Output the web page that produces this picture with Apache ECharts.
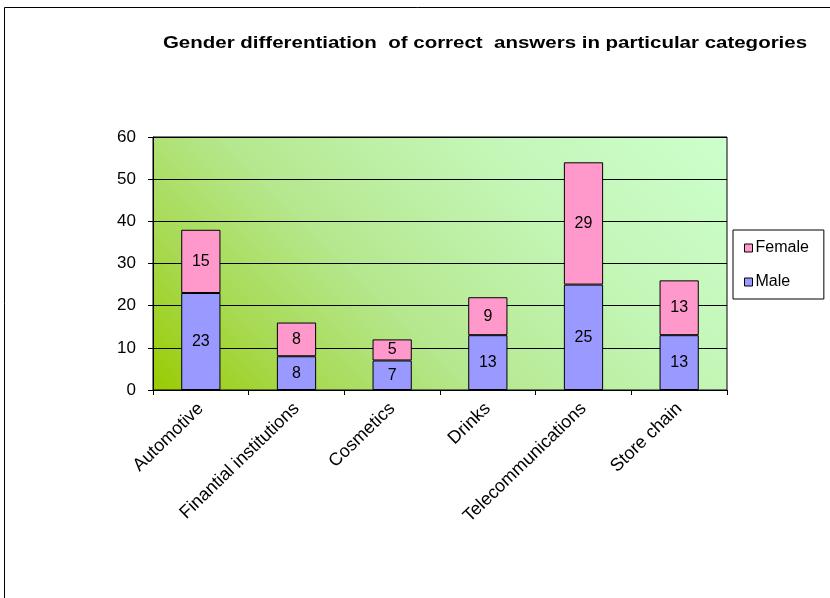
<!DOCTYPE html>
<html>
<head>
<meta charset="utf-8">
<script src="https://cdn.jsdelivr.net/npm/echarts@6/dist/echarts.min.js"></script>
<style>
  html, body { margin: 0; padding: 0; background: #fff; }
  #chart { width: 830px; height: 598px; }
</style>
</head>
<body>
<div id="chart"></div>
<script>
// Categories and counts of correct answers per gender
const categories = ['Automotive', 'Finantial institutions', 'Cosmetics', 'Drinks', 'Telecommunications', 'Store chain'];
const maleValues = [23, 8, 7, 13, 25, 13];
const femaleValues = [15, 8, 5, 9, 29, 13];
const yTicks = { min: 0, max: 60, interval: 10 };
const titleText = 'Gender differentiation  of correct  answers in particular categories';

const FONT = '"Liberation Sans", Arial, sans-serif';

// Plot area in pixels
const PLOT = { left: 153, top: 137, right: 727, bottom: 390 };
const W = 830, H = 598;

const chart = echarts.init(document.getElementById('chart'), null, { renderer: 'canvas' });

const barLabel = {
  show: true,
  position: 'inside',
  color: '#000',
  fontFamily: FONT,
  fontSize: 16
};

// 45° diagonal gradient: yellow-green at bottom-left fading to mint at top-right
const span = ((PLOT.right - PLOT.left) + (PLOT.bottom - PLOT.top)) / 2;
const plotFill = {
  type: 'linear', global: true,
  x: PLOT.left, y: PLOT.bottom,
  x2: PLOT.left + span, y2: PLOT.bottom - span,
  colorStops: [
    { offset: 0, color: '#99cc00' },
    { offset: 0.2, color: '#a8da55' },
    { offset: 0.4, color: '#b6e890' },
    { offset: 0.7, color: '#c4f6b8' },
    { offset: 1, color: '#ccffcc' }
  ]
};

chart.setOption({
  animation: false,
  backgroundColor: '#fff',
  graphic: [
    {
      type: 'rect',
      silent: true,
      shape: { x: 4.5, y: 7.5, width: 900, height: 700 },
      style: { fill: 'none', stroke: '#000', lineWidth: 1 }
    },
    {
      type: 'text',
      silent: true,
      x: 485,
      y: 44,
      scaleX: 1.28,
      style: {
        text: titleText,
        align: 'center',
        verticalAlign: 'middle',
        fontFamily: FONT,
        fontSize: 16,
        fontWeight: 'bold',
        fill: '#000'
      }
    }
  ],
  legend: {
    orient: 'vertical',
    left: 733,
    top: 230,
    data: ['Female', 'Male'],
    backgroundColor: '#fff',
    borderColor: '#000',
    borderWidth: 1,
    padding: [10, 15, 9, 11],
    itemWidth: 8,
    itemHeight: 8,
    itemGap: 18,
    icon: 'rect',
    textStyle: { fontFamily: FONT, fontSize: 16, color: '#000', padding: [0, 0, 0, -2] },
    itemStyle: { borderColor: '#000', borderWidth: 1 }
  },
  grid: {
    left: PLOT.left,
    right: W - PLOT.right,
    top: PLOT.top,
    bottom: H - PLOT.bottom,
    show: true,
    borderColor: '#000',
    borderWidth: 1,
    backgroundColor: plotFill
  },
  xAxis: {
    type: 'category',
    data: categories,
    boundaryGap: true,
    axisLine: { lineStyle: { color: '#000', width: 1 } },
    axisTick: { show: true, length: 5, alignWithLabel: false, lineStyle: { color: '#000' } },
    axisLabel: {
      rotate: 44,
      interval: 0,
      margin: 16,
      fontFamily: FONT,
      fontSize: 18,
      color: '#000'
    },
    splitLine: { show: false }
  },
  yAxis: {
    type: 'value',
    min: yTicks.min,
    max: yTicks.max,
    interval: yTicks.interval,
    axisLine: { show: true, lineStyle: { color: '#000', width: 1 } },
    axisTick: { show: true, length: 5, lineStyle: { color: '#000' } },
    axisLabel: { fontFamily: FONT, fontSize: 17, color: '#000', margin: 17 },
    splitLine: { show: true, lineStyle: { color: '#000', width: 1 } }
  },
  series: [
    {
      name: 'Male',
      type: 'bar',
      stack: 'total',
      data: maleValues,
      barWidth: '41%',
      itemStyle: { color: '#9999ff', borderColor: '#000', borderWidth: 1 },
      label: barLabel
    },
    {
      name: 'Female',
      type: 'bar',
      stack: 'total',
      data: femaleValues,
      barWidth: '41%',
      itemStyle: { color: '#ff99cc', borderColor: '#000', borderWidth: 1 },
      label: barLabel
    }
  ]
});
</script>
</body>
</html>
